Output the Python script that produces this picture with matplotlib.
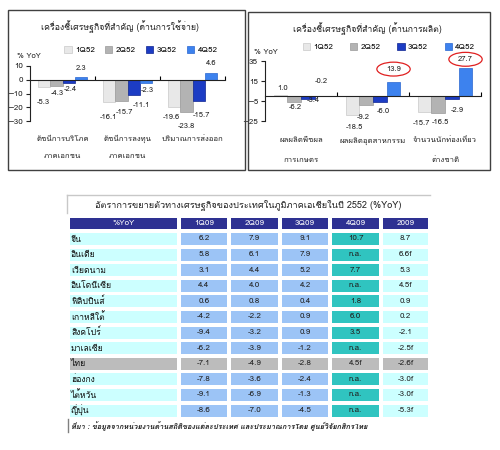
import matplotlib
matplotlib.use("Agg")
import matplotlib.pyplot as plt
import matplotlib.transforms as mtransforms
import numpy as np
from matplotlib.patches import Rectangle, Ellipse

plt.rcParams['font.family'] = ['Loma', 'DejaVu Sans']

# ---------------- data ----------------
series = ['1Q52', '2Q52', '3Q52', '4Q52']

left_title = 'เครื่องชี้เศรษฐกิจที่สำคัญ (ด้านการใช้จ่าย)'
left_cats = ['ดัชนีการบริโภค\nภาคเอกชน', 'ดัชนีการลงทุน\nภาคเอกชน', 'ปริมาณการส่งออก']
left_q1 = [-5.3, -16.1, -19.6]
left_q2 = [-4.3, -15.7, -23.8]
left_q3 = [-2.4, -11.1, -15.7]
left_q4 = [2.3, -2.3, 4.6]
left_yticks = [10, 0, -10, -20, -30]

right_title = 'เครื่องชี้เศรษฐกิจที่สำคัญ (ด้านการผลิต)'
right_cats = ['ผลผลิตพืชผล\nการเกษตร', 'ผลผลิตอุตสาหกรรม', 'จำนวนนักท่องเที่ยว\nต่างชาติ']
right_q1 = [1.0, -18.5, -15.7]
right_q2 = [-6.2, -9.2, -16.5]
right_q3 = [-3.4, -6.0, -2.9]
right_q4 = [-0.2, 13.9, 27.7]
right_yticks = [35, 15, -5, -25]
right_circled = [(3, 1), (3, 2)]  # (series, category) labels circled in red

table_title = 'อัตราการขยายตัวทางเศรษฐกิจของประเทศในภูมิภาคเอเชียในปี 2552 (%YoY)'
table_cols = ['%YoY', '1Q09', '2Q09', '3Q09', '4Q09', '2009']
countries = ['จีน', 'อินเดีย', 'เวียดนาม', 'อินโดนีเซีย', 'ฟิลิปปินส์', 'เกาหลีใต้',
             'สิงคโปร์', 'มาเลเซีย', 'ไทย', 'ฮ่องกง', 'ไต้หวัน', 'ญี่ปุ่น']
q1_09 = ['6.2', '5.8', '3.1', '4.4', '0.6', '-4.2', '-9.4', '-6.2', '-7.1', '-7.8', '-9.1', '-8.6']
q2_09 = ['7.9', '6.1', '4.4', '4.0', '0.8', '-2.2', '-3.2', '-3.9', '-4.9', '-3.6', '-6.9', '-7.0']
q3_09 = ['9.1', '7.9', '5.2', '4.2', '0.4', '0.9', '0.9', '-1.2', '-2.8', '-2.4', '-1.3', '-4.5']
q4_09 = ['10.7', 'n.a.', '7.7', 'n.a.', '1.8', '6.0', '3.5', 'n.a.', '4.5f', 'n.a.', 'n.a.', 'n.a.']
y2009 = ['8.7', '6.6f', '5.3', '4.5f', '0.9', '0.2', '-2.1', '-2.5f', '-2.6f', '-3.0f', '-3.0f', '-5.3f']
highlight_row = 'ไทย'
source_note = 'ที่มา : ข้อมูลจากหน่วยงานด้านสถิติของแต่ละประเทศ และประมาณการโดย ศูนย์วิจัยกสิกรไทย'

# ---------------- style ----------------
bar_colors = ['#e8e8e8', '#b3b3b3', '#1c3cc4', '#3d82ee']
bar_edges = ['#c9c9c9', '#9a9a9a', '#0e2490', '#2a66d0']
W, H = 500, 450
fig = plt.figure(figsize=(W / 100, H / 100), dpi=100)
fig.patch.set_facecolor('white')


def fx(px):
    return px / W


def fy(py):
    return 1 - py / H


def panel_box(x0, y0, x1, y1):
    fig.patches.append(Rectangle((fx(x0), fy(y1)), fx(x1 - x0), (y1 - y0) / H,
                                 transform=fig.transFigure, fill=False,
                                 ec='#404040', lw=1.0))


def bar_chart(ax_rect, vals, cats, yticks, ylim, label_dy, label_dx, circled=()):
    ax = fig.add_axes(ax_rect)
    x = np.arange(len(cats))
    w = 0.19
    conts = []
    for i, v in enumerate(vals):
        c = ax.bar(x + (i - 1.5) * w, v, w, color=bar_colors[i], ec=bar_edges[i],
                   lw=0.5, label=series[i], zorder=2)
        conts.append(c)
        for j, val in enumerate(v):
            dy = label_dy[i][j] * 0.72
            dx = label_dx[i][j] * 0.72
            xb = x[j] + (i - 1.5) * w
            ax.annotate(f'{val:.1f}', (xb, val),
                        xytext=(dx, dy), textcoords='offset points',
                        ha='center', va='center', fontsize=5.5, color='#222222')
            if (i, j) in circled:
                tr = (mtransforms.Affine2D().scale(fig.dpi / 72.0)
                      + mtransforms.ScaledTranslation(xb, val, ax.transData))
                ax.add_patch(Ellipse((dx, dy), 24, 10, transform=tr, fill=False,
                                     ec='#e02020', lw=0.9, clip_on=False, zorder=4))
    ax.set_xlim(-0.5, len(cats) - 0.5)
    ax.set_ylim(*ylim)
    ax.set_yticks(yticks)
    ax.tick_params(axis='y', labelsize=5.8, length=3, width=0.8, pad=2, colors='#222222')
    ax.set_xticks([0.5, 1.5, 2.5])
    ax.tick_params(axis='x', direction='in', length=3, width=0.8, labelbottom=False)
    for s in ['top', 'right']:
        ax.spines[s].set_visible(False)
    ax.spines['bottom'].set_position(('data', 0))
    ax.spines['bottom'].set_zorder(3)
    ax.spines['left'].set_color('#222222')
    ax.spines['bottom'].set_color('#222222')
    ax.patch.set_alpha(0)
    for j, c in enumerate(cats):
        lines = c.split('\n')
        for k, ln in enumerate(lines):
            ax.text(j, -0.33 - k * 0.32, ln, transform=ax.get_xaxis_transform(),
                    ha='center', va='center', fontsize=5.6, color='#222222')
    return ax, conts


# ---------------- left chart ----------------
panel_box(8, 10, 245, 170)
left_dy = [[-15, -16, -11], [-8, -11, -14], [-6, -10, -14], [8, -8, 10]]
left_dx = [[-1, -1, -3], [1, 3, 0], [2, 8, 3], [0, 1, 0]]
axL, contsL = bar_chart([fx(30), fy(121), fx(195), 55 / H],
                        [left_q1, left_q2, left_q3, left_q4], left_cats, left_yticks,
                        (-30, 10), left_dy, left_dx)
fig.text(fx(120), fy(27), left_title, ha='center', va='center', fontsize=6.3, color='#222222')
fig.text(fx(17), fy(57), '% YoY', ha='left', va='center', fontsize=5.5, color='#222222')
fig.legend(contsL, series, loc='center', bbox_to_anchor=(fx(141), fy(50)), ncol=4,
           frameon=False, fontsize=5.8, handlelength=0.9, handleheight=0.9,
           columnspacing=1.3, handletextpad=0.4)

# ---------------- right chart ----------------
panel_box(248, 12, 490, 170)
right_dy = [[7, -13, -12], [-5, -12, -10], [-1, -9, -12], [15, 13, 9]]
right_dx = [[2, 2, -3], [1, -3, 2], [5, 3, 5], [0, 0, 0]]
axR, contsR = bar_chart([fx(265), fy(121), 216 / W, 60 / H],
                        [right_q1, right_q2, right_q3, right_q4], right_cats, right_yticks,
                        (-25, 35), right_dy, right_dx, circled=right_circled)
fig.text(fx(367), fy(29), right_title, ha='center', va='center', fontsize=6.3, color='#222222')
fig.text(fx(254), fy(53), '% YoY', ha='left', va='center', fontsize=5.5, color='#222222')
fig.legend(contsR, series, loc='center', bbox_to_anchor=(fx(389), fy(47)), ncol=4,
           frameon=False, fontsize=5.8, handlelength=0.9, handleheight=0.9,
           columnspacing=2.1, handletextpad=0.4)

# ---------------- table ----------------
tab = fig.add_axes([0, 0, 1, 1])
tab.set_xlim(0, W)
tab.set_ylim(H, 0)
tab.axis('off')
tab.patch.set_alpha(0)

col_x = [70, 181, 231, 282, 332, 383]
col_w = [107, 46, 47, 46, 47, 45]
head_y, head_h = 218, 11
row_y0, row_pitch, row_h = 233, 15.6, 12
fills = ['#ccffff', '#9cc4f6', '#9cc4f6', '#9cc4f6', '#30c4c0', '#ccffff']
hl_fill = '#bcbcbc'

# title frame
tab.plot([67, 430], [195, 195], color='#c8c8c8', lw=1.0)
tab.plot([67, 67], [195, 213], color='#c8c8c8', lw=1.0)
tab.text(248, 205, table_title, ha='center', va='center', fontsize=6.6, color='#222222')

for c, name in enumerate(table_cols):
    tab.add_patch(Rectangle((col_x[c], head_y), col_w[c], head_h, fc='#2e3192', ec='none'))
    tab.text(col_x[c] + col_w[c] / 2, head_y + head_h / 2, name, ha='center', va='center',
             fontsize=5.8, color='white')

columns = [countries, q1_09, q2_09, q3_09, q4_09, y2009]
for r in range(len(countries)):
    y = row_y0 + r * row_pitch
    hl = countries[r] == highlight_row
    for c in range(len(table_cols)):
        tab.add_patch(Rectangle((col_x[c], y), col_w[c], row_h,
                                fc=hl_fill if hl else fills[c], ec='none'))
        txt = columns[c][r]
        if c == 0:
            tab.text(col_x[c] + 1, y + row_h / 2, txt, ha='left', va='center',
                     fontsize=6.2, color='#111111')
        else:
            tab.text(col_x[c] + col_w[c] / 2, y + row_h / 2, txt, ha='center', va='center',
                     fontsize=5.8, color='#222222')

tab.plot([68, 68], [419, 432], color='#808080', lw=1.0)
tab.text(71, 426, source_note, ha='left', va='center', fontsize=5.3, style='italic',
         fontweight='bold', color='#222222')

fig.savefig('out.png', dpi=100, facecolor='white')
